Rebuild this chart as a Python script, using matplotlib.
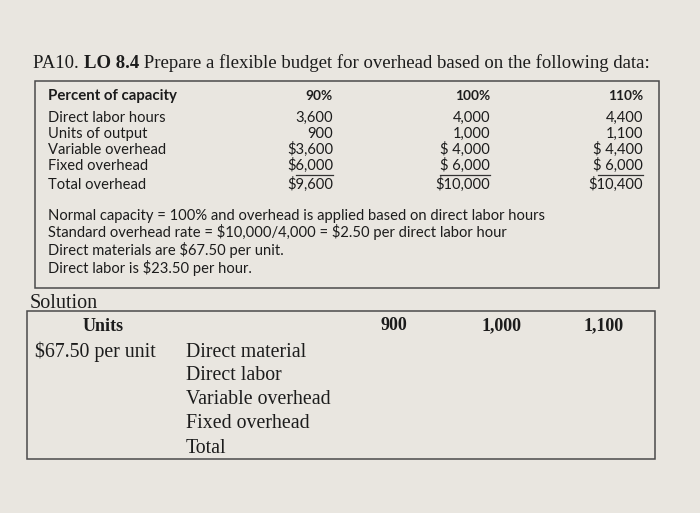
import matplotlib.pyplot as plt
from matplotlib.patches import Rectangle

plt.rcParams["text.parse_math"] = False

# data
title_plain = "PA10. "
title_bold = "LO 8.4"
title_rest = " Prepare a flexible budget for overhead based on the following data:"

capacity = ["90%", "100%", "110%"]
row_labels = ["Direct labor hours", "Units of output", "Variable overhead",
              "Fixed overhead", "Total overhead"]
col_90 = ["3,600", "900", "$3,600", "$6,000", "$9,600"]
col_100 = ["4,000", "1,000", "$ 4,000", "$ 6,000", "$10,000"]
col_110 = ["4,400", "1,100", "$ 4,400", "$ 6,000", "$10,400"]

notes = [
    "Normal capacity = 100% and overhead is applied based on direct labor hours",
    "Standard overhead rate = $10,000/4,000 = $2.50 per direct labor hour",
    "Direct materials are $67.50 per unit.",
    "Direct labor is $23.50 per hour.",
]

sol_units = ["900", "1,000", "1,100"]
sol_items = ["Direct material", "Direct labor", "Variable overhead",
             "Fixed overhead", "Total"]
sol_rate = "$67.50 per unit"

SERIF = "Liberation Serif"
SANS = "Lato"
INK = "#1c1c1c"
PAPER = "#e9e6e0"

fig = plt.figure(figsize=(7, 5.13), dpi=100)
fig.patch.set_facecolor(PAPER)
ax = fig.add_axes([0, 0, 1, 1])
ax.set_xlim(0, 700)
ax.set_ylim(513, 0)
ax.axis("off")

# title line
TS = 13.5
t = ax.text(33, 68, title_plain, fontsize=TS, family=SERIF, color=INK, va="baseline")
fig.canvas.draw()
r = fig.canvas.get_renderer()
inv = ax.transData.inverted()
def right_edge(txt):
    bb = txt.get_window_extent(renderer=r)
    return inv.transform((bb.x1, bb.y0))[0]
x = right_edge(t)
t = ax.text(x, 68, title_bold, fontsize=TS, family=SERIF, weight="bold", color=INK, va="baseline")
x = right_edge(t)
ax.text(x, 68, title_rest, fontsize=TS, family=SERIF, color=INK, va="baseline")

# top box
ax.add_patch(Rectangle((35, 81), 624, 207, fill=False, edgecolor="#4a4a4a", lw=1.1))

ax.text(48, 100, "Percent of capacity", fontsize=10.8, family=SANS, weight="bold",
        color=INK, va="baseline")
cap_x = [333, 490, 643]
for cx, c in zip(cap_x, capacity):
    ax.text(cx, 100, c, fontsize=9.8, family=SANS, weight="bold", color=INK,
            ha="right", va="baseline")

row_y = [122, 138, 154, 170, 189]
SS = 10.6
for i, lab in enumerate(row_labels):
    ax.text(48, row_y[i], lab, fontsize=SS, family=SANS, color=INK, va="baseline")
    for cx, col in zip(cap_x, [col_90, col_100, col_110]):
        ax.text(cx, row_y[i], col[i], fontsize=SS, family=SANS, color=INK,
                ha="right", va="baseline")

# underlines below fixed overhead
for x0, x1 in [(296, 333), (440, 490), (598, 643)]:
    ax.plot([x0, x1], [174.5, 174.5], color="#333333", lw=0.9)

note_y = [220, 237, 255, 273]
for ny, n in zip(note_y, notes):
    ax.text(48, ny, n, fontsize=SS, family=SANS, color=INK, va="baseline")

# solution
ax.text(30, 308, "Solution", fontsize=14.5, family=SERIF, color=INK, va="baseline")
ax.add_patch(Rectangle((27, 311), 628, 148, fill=False, edgecolor="#4a4a4a", lw=1.1))
ax.text(103, 331, "Units", fontsize=13, family=SERIF, weight="bold", color=INK,
        ha="center", va="baseline")
for ux, u in zip([394, 502, 604], sol_units):
    ax.text(ux, 330, u, fontsize=13, family=SERIF, weight="bold", color=INK,
            ha="center", va="baseline")

ax.text(35, 357, sol_rate, fontsize=14.3, family=SERIF, color=INK, va="baseline")
item_y = [357, 380, 404, 428, 453]
for iy, it in zip(item_y, sol_items):
    ax.text(186, iy, it, fontsize=14.3, family=SERIF, color=INK, va="baseline")

fig.savefig("out.png", dpi=100, facecolor=PAPER)
